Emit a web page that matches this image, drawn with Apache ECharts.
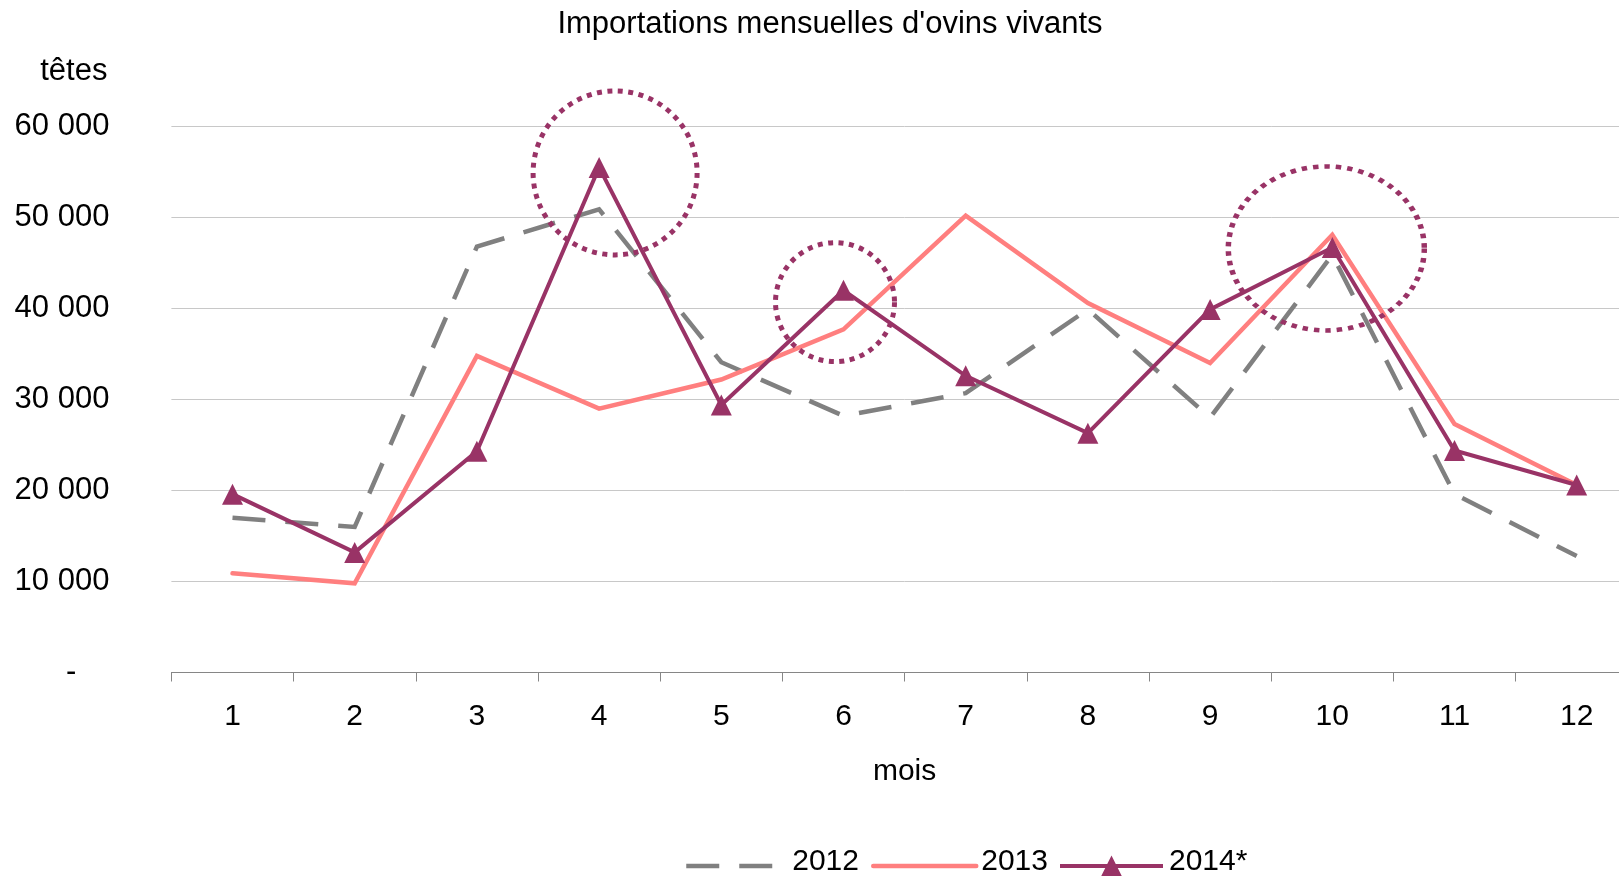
<!DOCTYPE html>
<html>
<head>
<meta charset="utf-8">
<script src="https://cdn.jsdelivr.net/npm/echarts@6/dist/echarts.min.js"></script>
<style>
  html, body { margin: 0; padding: 0; background: #fff; overflow: hidden; width: 1619px; height: 876px; }
  #chart { width: 1660px; height: 876px; }
</style>
</head>
<body>
<div id="chart"></div>
<script>
// ---- data ----
const months = ['1', '2', '3', '4', '5', '6', '7', '8', '9', '10', '11', '12'];
const s2012 = [17000, 16000, 46800, 50900, 34100, 28200, 30700, 39900, 28000, 45900, 19600, 12800];
const s2013 = [10900, 9800, 34800, 29000, 32200, 37700, 50200, 40600, 34000, 48100, 27300, 20600];
const s2014 = [19600, 13200, 24300, 55500, 29400, 42000, 32600, 26300, 39900, 46700, 24400, 20600];
const yTicks = [0, 10000, 20000, 30000, 40000, 50000, 60000];
const highlightMonths = ['4', '6', '10'];
const highlightValues = [54900, 40700, 46600];

// ---- styles ----
const FONT = '"Liberation Sans", Arial, sans-serif';
const PURPLE = '#993366';
const SALMON = '#FF7F7F';
const GRAY = '#808080';
const ringStyles = [
  { size: [164, 164], offset: [16, 0] },
  { size: [119, 119], offset: [-8.5, 0] },
  { size: [196, 164], offset: [-6, 0] }
];
// legend icon for the 2014* series: line with a triangle marker in the middle
const ICON_2014 = 'path://M0,8.5H103V12.5H0Z M51.5,0L62,21H41Z';

function fmt(v) {
  if (v === 0) return '{z|-}';
  return String(v).replace(/\B(?=(\d{3})+(?!\d))/g, ' ');
}

const chart = echarts.init(document.getElementById('chart'), null, { renderer: 'canvas' });

function legendOf(name, left, width, height, textPadLeft, lineStyle, itemStyle, icon) {
  const lg = {
    data: [name], left: left, top: 846.5,
    itemWidth: width, itemHeight: height, padding: 0, selectedMode: false,
    lineStyle: lineStyle,
    itemStyle: itemStyle,
    formatter: '{t|{name}}',
    textStyle: {
      fontSize: 30, color: '#000', fontFamily: FONT,
      rich: { t: { fontSize: 30, color: '#000', fontFamily: FONT, padding: [0, 0, 9, textPadLeft] } }
    }
  };
  if (icon) lg.icon = icon;
  return lg;
}

chart.setOption({
  backgroundColor: '#fff',
  animation: false,
  title: {
    text: "Importations mensuelles d'ovins vivants",
    left: 830, top: 9, textAlign: 'center', padding: 0,
    textStyle: { fontSize: 31, fontWeight: 'normal', color: '#000', fontFamily: FONT }
  },
  legend: [
    legendOf('2012', 684, 86, 25, 15, { color: GRAY, width: 4.5, type: [33, 20], cap: 'butt' }, { opacity: 0 }),
    legendOf('2013', 871, 103, 25, 0, { color: SALMON, width: 4.5, type: 'solid', cap: 'round' }, { opacity: 0 }),
    legendOf('2014*', 1060, 103, 21, 1, null, { color: PURPLE, opacity: 1 }, ICON_2014)
  ],
  grid: { left: 171.4, top: 126.5, width: 1466.4, height: 546 },
  xAxis: {
    type: 'category',
    data: months,
    boundaryGap: true,
    name: 'mois',
    nameLocation: 'middle',
    nameGap: 84.5,
    nameTextStyle: { fontSize: 30, color: '#000', fontFamily: FONT },
    axisLine: { show: true, lineStyle: { color: '#868686', width: 1 } },
    axisTick: { show: true, length: 9, alignWithLabel: false, lineStyle: { color: '#868686', width: 1 } },
    axisLabel: { fontSize: 30, color: '#000', fontFamily: FONT, margin: 29 },
    splitLine: { show: false }
  },
  yAxis: {
    type: 'value',
    min: yTicks[0], max: yTicks[yTicks.length - 1], interval: yTicks[1] - yTicks[0],
    name: 'têtes',
    nameLocation: 'end',
    nameGap: 55.5,
    nameTextStyle: { fontSize: 31, color: '#000', fontFamily: FONT, align: 'right', verticalAlign: 'middle', padding: [0, 64, 0, 0] },
    axisLine: { show: false },
    axisTick: { show: false },
    axisLabel: {
      fontSize: 31, color: '#000', fontFamily: FONT, margin: 62,
      formatter: fmt,
      rich: { z: { fontSize: 31, color: '#000', fontFamily: FONT, padding: [0, 33, 0, 0] } }
    },
    splitLine: { show: true, lineStyle: { color: '#c8c8c8', width: 1 } }
  },
  series: [
    {
      name: '2012', type: 'line', data: s2012, symbol: 'none', z: 2,
      lineStyle: { color: GRAY, width: 4.5, type: [33, 20], cap: 'butt', join: 'miter' },
      itemStyle: { color: GRAY }
    },
    {
      name: '2013', type: 'line', data: s2013, symbol: 'none', z: 3,
      lineStyle: { color: SALMON, width: 4.5, cap: 'round', join: 'miter' },
      itemStyle: { color: SALMON }
    },
    {
      name: '2014*', type: 'line', data: s2014, symbol: 'triangle', symbolSize: 21, z: 4,
      lineStyle: { color: PURPLE, width: 4, join: 'miter' },
      itemStyle: { color: PURPLE }
    },
    {
      name: 'highlights', type: 'scatter', silent: true, z: 5,
      data: highlightMonths.map((m, i) => ({
        value: [m, highlightValues[i]],
        symbolSize: ringStyles[i].size,
        symbolOffset: ringStyles[i].offset
      })),
      symbol: 'circle',
      itemStyle: { color: 'rgba(0,0,0,0)', opacity: 1, borderColor: PURPLE, borderWidth: 5, borderType: [5, 5.5], borderCap: 'butt' }
    }
  ]
});
</script>
</body>
</html>
